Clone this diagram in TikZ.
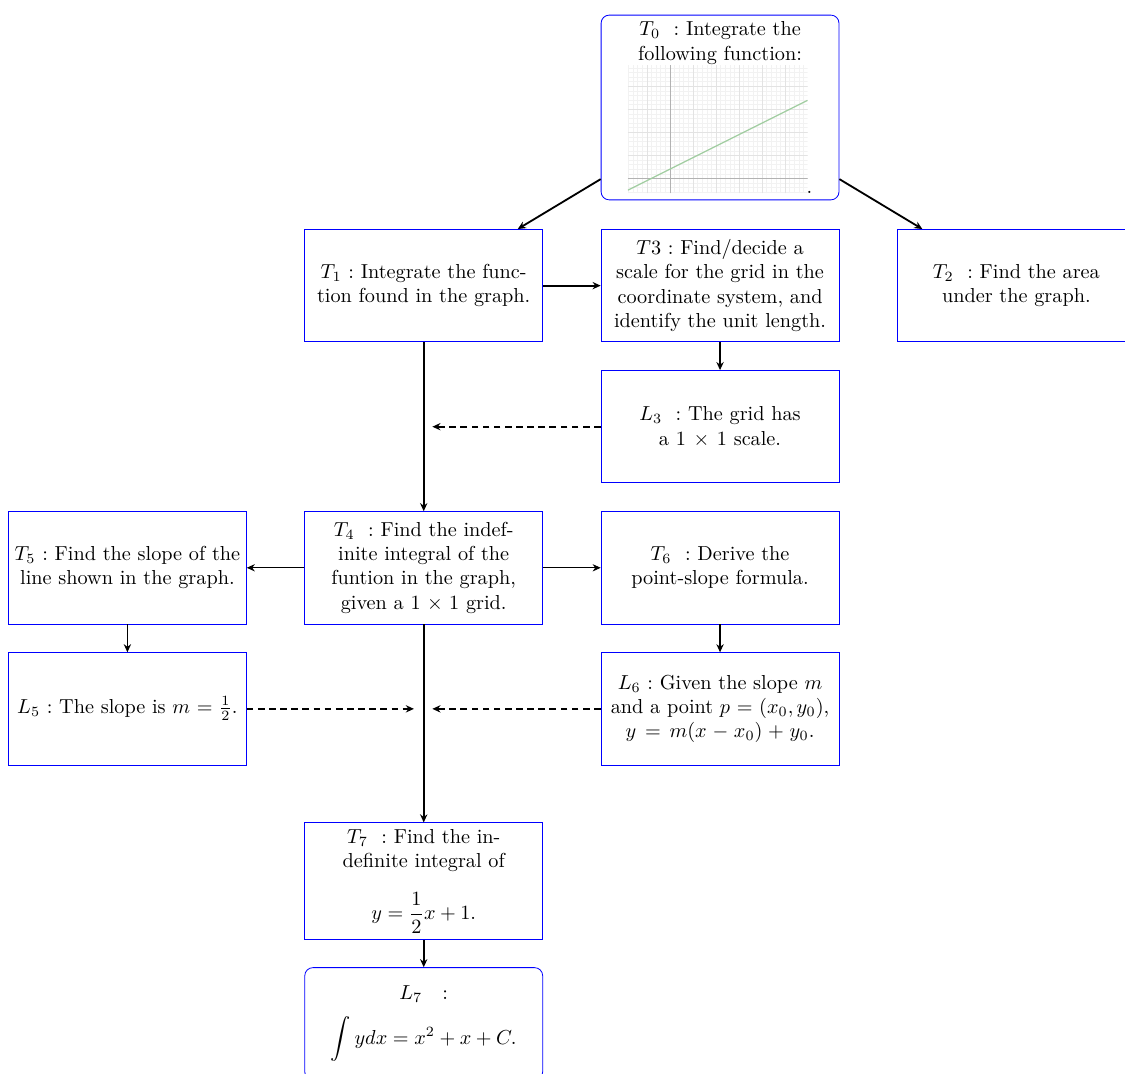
\documentclass[tikz,border=0pt]{standalone}
\usepackage{amsmath, amssymb, amsfonts}
\usepackage{xcolor}
\usepackage{tikz}
\usetikzlibrary{arrows.meta, positioning, calc}

\definecolor{lineGreen}{RGB}{160,205,160}
\frenchspacing

\begin{document}
\begin{tikzpicture}[
  node distance=0.485cm and 1cm,
  taskbox/.style={rectangle, draw=blue, text width=4.05cm, align=center,
    inner xsep=1pt, minimum width=4.13cm, minimum height=1.95cm},
  resultbox/.style={taskbox, rounded corners=4pt},
  arr/.style={line width=0.9pt, -{Stealth[length=4pt, width=3.6pt]}},
  thinarr/.style={thin, -{Stealth[length=4pt, width=3.6pt]}},
  dasharr/.style={arr, dash pattern=on 3.3pt off 2.2pt}
]
\useasboundingbox (0,0) rectangle (19.53,-18.63);

\node [resultbox] (T0) at (12.5,-1.866)
  {$T_0$\ \ : Integrate the\\ following function:\\ \rule{0pt}{2.2cm}\hspace{3.1cm}.};

% graph of the function
\begin{scope}[shift={($(T0.south)+(-1.6,0.12)+(0.729,0.26)$)}]
  \clip (-0.729,-0.26) rectangle (2.391,1.96);
  \draw [gray!10, line width=0.2pt, step=0.08] (-0.729,-0.26) grid (2.391,1.96);
  \draw [gray!22, line width=0.25pt, step=0.4] (-0.729,-0.26) grid (2.391,1.96);
  \draw [gray!60, line width=0.3pt] (-0.729,0) -- (2.391,0);
  \draw [gray!60, line width=0.3pt] (0,-0.26) -- (0,1.96);
  \draw [lineGreen, line width=0.6pt] (-0.729,-0.2045) -- (2.391,1.3555);
\end{scope}

\node [taskbox] (T3) [below=0.5cm of T0]
  {$T3$ : Find/decide a\\ scale for the grid in the\\ coordinate system, and\\ identify the unit length.};
\node [taskbox] (T1) [left=of T3]
  {$T_1$ : Integrate the func-\\ tion found in the graph.};
\node [taskbox] (T2) [right=of T3]
  {$T_2$\ \ : Find the area\\ under the graph.};
\node [taskbox] (L3) [below=of T3]
  {$L_3$\ \ : The grid has\\ a $1\times1$ scale.};
\node [taskbox] (T6) [below=of L3]
  {$T_6$\ \ : Derive the\\ point-slope formula.};
\node [taskbox] (T4) [left=of T6]
  {$T_4$\ \ : Find the indef-\\ inite integral of the\\ funtion in the graph,\\ given a $1\times1$ grid.};
\node [taskbox] (T5) [left=of T4]
  {$T_5$ : Find the slope of the\\ line shown in the graph.};
\node [taskbox] (L6) [below=of T6]
  {$L_6$ : Given the slope $m$\\ and a point $p=(x_0,y_0)$,\\ $y = m(x-x_0)+y_0$.};
\node [taskbox] (L5) [below=of T5]
  {$L_5$ : The slope is $m=\frac{1}{2}$.};
\coordinate (r7) at (T4 |- L5.south);
\node [taskbox] (T7) [below=0.99cm of r7]
  {$T_7$\ \ : Find the in-\\ definite integral of\\[9pt] \mbox{$\displaystyle y=\frac{1}{2}x+1.$}};
\node [resultbox] (L7) [below=0.47cm of T7]
  {$L_7$\quad :\\[6pt] \mbox{$\displaystyle\int ydx=x^2+x+C.$}};

% where the dashed arrows meet the main line
\coordinate (m3) at (T1 |- L3);
\coordinate (m5) at (T4 |- L5);

\draw [arr] (T0) -- (T1);
\draw [arr] (T0) -- (T2);
\draw [arr] (T1) -- (T3);
\draw [arr] (T3) -- (L3);
\draw [arr] (T1) -- (T4);
\draw [dasharr, shorten >=0.15cm] (L3) -- (m3);
\draw [thinarr] (T4) -- (T5);
\draw [thinarr] (T4) -- (T6);
\draw [arr] (T5) -- (L5);
\draw [arr] (T6) -- (L6);
\draw [dasharr, shorten >=0.17cm] (L5) -- (m5);
\draw [dasharr, shorten >=0.15cm] (L6) -- (m5);
\draw [arr] (T4) -- (T7);
\draw [arr] (T7) -- (L7);
\end{tikzpicture}
\end{document}
